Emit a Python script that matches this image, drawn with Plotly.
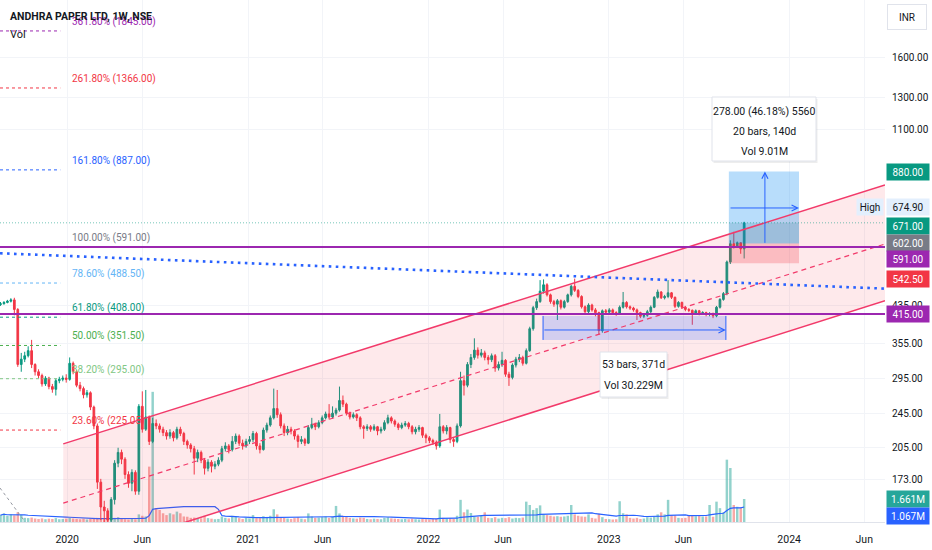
import math
import pandas as pd
import plotly.graph_objects as go

# ---------------- data (weekly bars) ----------------
first_week = "2019-08-19"
first_open = 436.0

close = [
    438, 441, 444, 447, 425, 318, 327, 333, 342, 318,
    306, 300, 287, 296, 283, 279, 292, 294, 296, 294,
    320, 306, 285, 280, 271, 274, 254, 230, 171, 150,
    147, 140, 156, 189, 200, 193, 178, 170, 180, 163,
    255, 226, 241, 212, 233, 230, 226, 222, 218, 222,
    216, 226, 221, 212, 208, 204, 194, 200, 192, 184,
    190, 186, 188, 192, 204, 207, 203, 212, 218, 210,
    207, 212, 214, 221, 207, 203, 225, 231, 240, 252,
    244, 230, 222, 226, 224, 218, 212, 214, 210, 228,
    232, 229, 234, 240, 245, 241, 246, 250, 263, 258,
    246, 241, 244, 240, 229, 227, 229, 226, 229, 224,
    226, 234, 240, 236, 232, 228, 231, 233, 229, 223,
    226, 228, 219, 216, 213, 211, 207, 229, 224, 228,
    214, 212, 230, 292, 285, 318, 330, 343, 334, 338,
    330, 326, 333, 312, 318, 325, 302, 297, 317, 327,
    330, 320, 342, 384, 429, 443, 468, 484, 459, 443,
    437, 445, 430, 443, 459, 480, 470, 455, 431, 420,
    435, 424, 418, 380, 422, 419, 424, 418, 416, 430,
    441, 431, 428, 424, 418, 410, 412, 420, 430, 453,
    466, 452, 455, 464, 453, 432, 441, 430, 425, 423,
    417, 422, 416, 418, 414, 416, 411, 430, 448, 462,
    546, 601, 592, 604, 585, 671,
]
high = [
    442, 444, 447, 451, 452, 428, 338, 340, 350, 362,
    320, 310, 303, 299, 298, 287, 295, 298, 300, 302,
    330, 323, 309, 290, 283, 278, 276, 256, 233, 174,
    155, 149, 158, 192, 205, 203, 195, 181, 183, 182,
    258, 276, 278, 243, 240, 238, 233, 229, 225, 226,
    224, 229, 229, 223, 214, 210, 207, 203, 202, 194,
    193, 192, 191, 195, 207, 211, 209, 218, 221, 220,
    214, 215, 218, 224, 223, 210, 228, 234, 243, 280,
    278, 247, 233, 230, 229, 226, 220, 218, 216, 231,
    240, 234, 237, 243, 248, 258, 255, 253, 283, 270,
    260, 248, 247, 246, 242, 231, 232, 231, 232, 230,
    229, 237, 244, 242, 238, 234, 234, 236, 235, 231,
    229, 231, 229, 221, 218, 215, 213, 245, 231, 231,
    229, 217, 233, 306, 300, 322, 336, 365, 348, 345,
    342, 334, 337, 336, 323, 340, 327, 306, 320, 331,
    336, 333, 346, 388, 433, 450, 496, 498, 488, 462,
    447, 449, 448, 447, 462, 484, 500, 473, 458, 434,
    439, 438, 428, 420, 425, 426, 428, 427, 421, 434,
    466, 444, 434, 431, 427, 420, 416, 424, 434, 456,
    472, 468, 459, 496, 466, 455, 444, 443, 433, 428,
    425, 425, 424, 421, 420, 419, 418, 433, 451, 466,
    550, 612, 640, 608, 606, 674.9,
]
low = [
    433, 436, 439, 441, 412, 314, 306, 322, 330, 312,
    300, 296, 283, 284, 279, 274, 270, 288, 291, 289,
    292, 302, 282, 276, 266, 267, 250, 226, 165, 140,
    132, 128, 136, 152, 185, 188, 174, 166, 163, 160,
    160, 222, 224, 208, 210, 226, 222, 218, 214, 215,
    212, 214, 218, 208, 204, 200, 178, 190, 189, 178,
    181, 180, 183, 186, 190, 201, 199, 201, 209, 207,
    203, 205, 209, 211, 203, 199, 202, 222, 229, 238,
    240, 227, 218, 219, 220, 214, 205, 209, 207, 209,
    226, 225, 227, 232, 238, 238, 239, 243, 248, 254,
    243, 238, 239, 236, 226, 215, 224, 223, 224, 219,
    221, 224, 232, 233, 229, 225, 226, 229, 226, 220,
    220, 223, 216, 210, 210, 208, 203, 205, 221, 220,
    210, 206, 210, 228, 270, 282, 312, 326, 328, 330,
    325, 318, 322, 306, 308, 314, 298, 284, 294, 313,
    322, 316, 318, 340, 380, 424, 440, 462, 455, 438,
    431, 402, 425, 427, 440, 455, 466, 451, 427, 415,
    417, 420, 410, 372, 376, 414, 416, 414, 411, 413,
    427, 427, 424, 420, 402, 406, 406, 409, 417, 428,
    450, 449, 448, 451, 449, 428, 429, 426, 421, 419,
    392, 413, 412, 413, 410, 410, 406, 408, 427, 445,
    458, 540, 586, 588, 570, 556,
]
volume_m = [
    0.50, 0.62, 0.45, 0.55, 0.48, 0.70, 0.52,
    0.30, 0.28, 0.32, 0.25, 0.22, 0.26, 0.20, 0.24, 0.22, 0.28, 0.20, 0.22, 0.24, 0.30, 0.25, 0.22, 0.20, 0.24, 0.18, 0.22, 0.26,
    0.30, 0.28, 0.20, 0.18, 0.22, 0.30, 0.35, 0.25, 0.20, 0.18, 0.24, 0.20, 0.55, 0.45, 0.40,
    4.0, 9.4,
    1.0, 0.87, 0.63, 0.50, 0.63, 0.55, 0.75, 0.63, 0.40, 0.38, 0.30, 0.32, 0.27, 0.27, 0.45, 0.28, 0.24, 0.20,
    0.22, 0.40, 0.30, 0.26, 0.45, 0.38, 0.28, 0.22, 0.30, 0.26, 0.50, 0.32, 0.28, 0.42, 0.35, 0.45,
    0.92, 0.55,
    0.35, 0.30, 0.25, 0.22, 0.28, 0.35, 0.24, 0.20, 0.62, 0.40, 0.30, 0.32, 0.35, 0.40, 0.30, 0.38,
    1.16, 0.62,
    0.45, 0.38, 0.30, 0.26, 0.24, 0.32, 0.30, 0.22, 0.20, 0.24, 0.22, 0.20, 0.30, 0.35, 0.26, 0.24,
    0.22, 0.20, 0.22, 0.20, 0.24, 0.20, 0.18, 0.22, 0.20, 0.18, 0.22, 0.25,
    0.90,
    0.30, 0.26, 0.28, 0.24, 0.45,
    1.60, 0.70, 0.90, 0.65, 0.40, 0.38, 0.45, 0.70,
    0.30, 0.28, 0.35, 0.25, 0.30, 0.28, 0.35, 0.25, 0.30, 0.28, 0.32,
    1.47, 1.23, 0.87, 1.0, 1.2, 0.55, 0.50, 0.45,
    0.40, 0.42, 0.38, 0.40, 0.45,
    1.23, 0.55, 0.45, 0.40, 0.38, 0.55, 0.30,
    0.25, 0.60, 0.35, 0.22, 0.20, 0.18,
    0.20, 1.50, 0.63, 0.55, 0.30,
    0.25, 0.30, 0.22, 0.25, 0.35, 0.32, 0.40,
    0.55, 0.70, 0.55, 1.60, 0.50, 0.48, 0.30, 0.28, 0.30, 0.45, 0.45, 0.42, 0.45, 0.40,
    0.40, 1.23, 0.38, 1.47, 1.0, 0.70, 4.5, 3.9, 1.23, 1.10, 1.05, 1.661,
]

# axis ticks
x_tick_dates = ["2020-01-01", "2020-06-01", "2021-01-01", "2021-06-01", "2022-01-01",
                "2022-06-01", "2023-01-01", "2023-06-01", "2024-01-01", "2024-06-01"]
x_tick_text = ["2020", "Jun", "2021", "Jun", "2022", "Jun", "2023", "Jun", "2024", "Jun"]
y_tick_vals = [173, 205, 245, 295, 355, 435, 1100, 1300, 1600]

# Fibonacci retracement drawing
fib_levels = ["361.80%", "261.80%", "161.80%", "100.00%", "78.60%", "61.80%", "50.00%", "38.20%", "23.60%"]
fib_prices = [1845.00, 1366.00, 887.00, 591.00, 488.50, 408.00, 351.50, 295.00, 225.05]
fib_colors = ["#9c27b0", "#f23645", "#2962ff", "#787b86", "#64b5f6", "#089981", "#4caf50", "#81c784", "#f23645"]
fib_dates = ["2019-08-18", "2019-12-18"]
fib_label_date = "2020-01-07"

# other drawings
view_dates = ["2019-08-18", "2024-07-13"]
price_view = [138.6, 2172.0]
vol_view_m = [0, 37.7]
hline_prices = [591.0, 415.0]
chan_dates = ["2019-12-24", "2024-07-13"]
chan_upper = [209.2, 819.0]
chan_mid = [153.1, 600.0]
chan_lower = [112.9, 445.0]
trend_dates = ["2019-08-18", "2024-07-13"]
trend_prices = [571.5, 474.3]
gray_dates = ["2019-08-18", "2019-10-08"]
gray_prices = [165.8, 138.6]
last_close = 671.0
pos_dates = ["2023-09-01", "2024-01-21"]
pos_target, pos_entry, pos_stop = 880.0, 602.0, 542.5
pos_mid_date = "2023-11-13"
pos_harrow_price = 725.6
rng_dates = ["2022-08-21", "2023-08-26"]
rng_prices = [361.9, 410.7]
rng_arrow_price = 381.4

# ---------------- build ----------------
n = len(close)
assert len(high) == n and len(low) == n and len(volume_m) == n, (len(close), len(high), len(low), len(volume_m))
dates = pd.date_range(first_week, periods=n, freq="7D")
opens = [first_open] + close[:-1]
highs = [max(h, o, c) for h, o, c in zip(high, opens, close)]
lows = [min(l, o, c) for l, o, c in zip(low, opens, close)]
vol_colors = ["rgba(38,166,154,0.5)" if c >= o else "rgba(239,83,80,0.5)" for c, o in zip(close, opens)]
vol_ma = pd.Series(volume_m).rolling(20, min_periods=1).mean()

FONT = "Roboto, Open Sans, sans-serif"
TXT = "#131722"
L10 = math.log10

fig = go.Figure()

# volume (base axis, behind price)
fig.add_trace(go.Bar(x=dates, y=volume_m, marker=dict(color=vol_colors, line=dict(width=0)),
                     width=5 * 86400000, yaxis="y", hoverinfo="skip"))
fig.add_trace(go.Scatter(x=dates, y=vol_ma, mode="lines", line=dict(color="#2962ff", width=1.2),
                         yaxis="y", hoverinfo="skip"))

# channel fill
fig.add_trace(go.Scatter(x=[chan_dates[0], chan_dates[1], chan_dates[1], chan_dates[0], chan_dates[0]],
                         y=[chan_upper[0], chan_upper[1], chan_lower[1], chan_lower[0], chan_upper[0]],
                         fill="toself", fillcolor="rgba(242,54,69,0.11)", mode="lines",
                         line=dict(width=0), yaxis="y2", hoverinfo="skip"))

def rect(xd, y0, y1, color):
    fig.add_trace(go.Scatter(x=[xd[0], xd[1], xd[1], xd[0], xd[0]], y=[y0, y0, y1, y1, y0],
                             fill="toself", fillcolor=color, mode="lines", line=dict(width=0),
                             yaxis="y2", hoverinfo="skip"))

# date range box (53 bars)
rect(rng_dates, rng_prices[0], rng_prices[1], "rgba(41,98,255,0.2)")
# position / price range tool
rect(pos_dates, pos_entry, pos_target, "rgba(33,150,243,0.32)")
rect(pos_dates, pos_entry, last_close, "rgba(0,90,110,0.14)")
rect(pos_dates, pos_stop, pos_entry, "rgba(242,54,69,0.25)")

# fib lines
for p, c in zip(fib_prices, fib_colors):
    fig.add_trace(go.Scatter(x=fib_dates, y=[p, p], mode="lines",
                             line=dict(color=c, width=1, dash="3px,3px"), yaxis="y2", hoverinfo="skip"))

# gray dashed diagonal
fig.add_trace(go.Scatter(x=gray_dates, y=gray_prices, mode="lines",
                         line=dict(color="#9598a1", width=1, dash="3px,3px"), yaxis="y2", hoverinfo="skip"))

# candles
fig.add_trace(go.Candlestick(x=dates, open=opens, high=highs, low=lows, close=close, yaxis="y2",
                             increasing=dict(line=dict(color="#089981", width=1), fillcolor="#089981"),
                             decreasing=dict(line=dict(color="#f23645", width=1), fillcolor="#f23645"),
                             whiskerwidth=0, hoverinfo="skip"))

# channel lines
chan_col = "#f23a6a"
fig.add_trace(go.Scatter(x=chan_dates, y=chan_upper, mode="lines", line=dict(color=chan_col, width=1.5),
                         yaxis="y2", hoverinfo="skip"))
fig.add_trace(go.Scatter(x=chan_dates, y=chan_lower, mode="lines", line=dict(color=chan_col, width=1.5),
                         yaxis="y2", hoverinfo="skip"))
fig.add_trace(go.Scatter(x=chan_dates, y=chan_mid, mode="lines", line=dict(color=chan_col, width=1.2, dash="5px,4px"),
                         yaxis="y2", hoverinfo="skip"))

# horizontal purple lines
for p in hline_prices:
    fig.add_trace(go.Scatter(x=view_dates, y=[p, p], mode="lines", line=dict(color="#9c27b0", width=2),
                             yaxis="y2", hoverinfo="skip"))

# blue dotted trendline
fig.add_trace(go.Scatter(x=trend_dates, y=trend_prices, mode="lines",
                         line=dict(color="#2962ff", width=2.6, dash="2.6px,4.4px"), yaxis="y2", hoverinfo="skip"))

# last price line
fig.add_trace(go.Scatter(x=view_dates, y=[last_close, last_close], mode="lines",
                         line=dict(color="rgba(8,153,129,0.55)", width=1, dash="1px,2px"),
                         yaxis="y2", hoverinfo="skip"))

# range box edge lines
for d in rng_dates:
    fig.add_trace(go.Scatter(x=[d, d], y=rng_prices, mode="lines", line=dict(color="#2962ff", width=1),
                             yaxis="y2", hoverinfo="skip"))

annotations = []

# fib labels
for lab, p, c in zip(fib_levels, fib_prices, fib_colors):
    annotations.append(dict(x=fib_label_date, y=L10(p), xref="x", yref="y2", text=f"{lab} ({p:.2f})",
                            showarrow=False, xanchor="left", yanchor="middle", yshift=9,
                            font=dict(family=FONT, size=10, color=c)))

# arrows
arrow_col = "#2962ff"
annotations.append(dict(x=pos_mid_date, y=L10(pos_target), xref="x", yref="y2", ax=0, ay=73,
                        showarrow=True, arrowhead=5, arrowsize=1.2, arrowwidth=1, arrowcolor=arrow_col, text=""))
annotations.append(dict(x=pos_dates[1], y=L10(pos_harrow_price), xref="x", yref="y2", ax=-70, ay=0,
                        showarrow=True, arrowhead=5, arrowsize=1.2, arrowwidth=1, arrowcolor=arrow_col, text=""))
annotations.append(dict(x=rng_dates[1], y=L10(rng_arrow_price), xref="x", yref="y2", ax=-183, ay=0,
                        showarrow=True, arrowhead=5, arrowsize=1.2, arrowwidth=1, arrowcolor=arrow_col, text=""))

# title & legend
annotations.append(dict(x=8 / 885, y=1 - 16 / 522, xref="paper", yref="paper", xanchor="left", yanchor="middle",
                        text="<b>ANDHRA PAPER LTD, 1W, NSE</b>", showarrow=False,
                        font=dict(family=FONT, size=10.5, color=TXT)))
annotations.append(dict(x=8 / 885, y=1 - 34 / 522, xref="paper", yref="paper", xanchor="left", yanchor="middle",
                        text="Vol", showarrow=False, font=dict(family=FONT, size=11, color=TXT)))

# tooltips
shapes = []
def tooltip(px0, px1, py0, py1, lines, line_ys):
    X0, X1 = px0 / 885, px1 / 885
    Y0, Y1 = 1 - py1 / 522, 1 - py0 / 522
    shapes.append(dict(type="rect", xref="paper", yref="paper", x0=X0 + 1.5 / 885, x1=X1 + 1.5 / 885,
                       y0=Y0 - 2 / 522, y1=Y1 - 2 / 522, fillcolor="rgba(0,0,0,0.07)", line=dict(width=0), layer="above"))
    shapes.append(dict(type="rect", xref="paper", yref="paper", x0=X0, x1=X1, y0=Y0, y1=Y1,
                       fillcolor="white", line=dict(color="#e0e3eb", width=1), layer="above"))
    cx = (px0 + px1) / 2 / 885
    for t, yy in zip(lines, line_ys):
        annotations.append(dict(x=cx, y=1 - yy / 522, xref="paper", yref="paper", text=t, showarrow=False,
                                xanchor="center", yanchor="middle", font=dict(family=FONT, size=10.5, color=TXT)))

tooltip(712, 816, 97, 161, ["278.00 (46.18%) 5560", "20 bars, 140d", "Vol 9.01M"], [111, 131, 151])
tooltip(600, 667, 352, 397, ["53 bars, 371d", "Vol 30.229M"], [364, 385])

# right axis labels
def axis_label(text, y, yref, bg, fg="white", yshift=0):
    annotations.append(dict(x=1, y=y, xref="paper", yref=yref, xanchor="left", yanchor="middle",
                            xshift=1, yshift=yshift, text=text, showarrow=False, bgcolor=bg,
                            width=40, height=14, align="center", font=dict(family=FONT, size=10, color=fg)))

axis_label("880.00", L10(pos_target), "y2", "#089981", yshift=-1)
axis_label("674.90", L10(674.9), "y2", "#e3effd", fg=TXT, yshift=15)
axis_label("671.00", L10(last_close), "y2", "#089981", yshift=-3)
axis_label("602.00", L10(pos_entry), "y2", "#787b86", yshift=0)
axis_label("591.00", L10(hline_prices[0]), "y2", "#9c27b0", yshift=-12)
axis_label("542.50", L10(pos_stop), "y2", "#f23645", yshift=-16)
axis_label("415.00", L10(hline_prices[1]), "y2", "#9c27b0", yshift=0)
axis_label("1.661M", volume_m[-1], "y", "#26a69a", yshift=0)
axis_label("1.067M", float(vol_ma.iloc[-1]), "y", "#2962ff", yshift=-9)
annotations.append(dict(x=1, y=L10(674.9), xref="paper", yref="y2", xanchor="right", yanchor="middle",
                        xshift=-1, yshift=15, text="High", showarrow=False, bgcolor="#e3effd",
                        width=24, height=14, font=dict(family=FONT, size=10, color=TXT)))
annotations.append(dict(x=1, y=1, xref="paper", yref="paper", xanchor="left", yanchor="top",
                        xshift=2, yshift=-4, text="INR", showarrow=False, bgcolor="white",
                        bordercolor="#e0e3eb", borderwidth=1, width=36, height=22,
                        font=dict(family=FONT, size=10, color=TXT)))

fig.update_layout(
    width=932, height=550,
    margin=dict(l=0, r=47, t=0, b=28),
    paper_bgcolor="white", plot_bgcolor="white",
    showlegend=False, hovermode=False,
    xaxis=dict(type="date", range=view_dates, tickmode="array", tickvals=x_tick_dates, ticktext=x_tick_text,
               showgrid=True, gridcolor="#f2f4f8", gridwidth=1, zeroline=False, ticks="",
               showline=True, linecolor="#e0e3eb", ticklabelstandoff=7,
               tickfont=dict(family=FONT, size=10.5, color=TXT), rangeslider=dict(visible=False)),
    yaxis=dict(range=vol_view_m, visible=False, showgrid=False, zeroline=False, fixedrange=True),
    yaxis2=dict(type="log", overlaying="y", side="right", range=[L10(price_view[0]), L10(price_view[1])],
                tickmode="array", tickvals=y_tick_vals, ticktext=[f"{v:.2f}" for v in y_tick_vals],
                showgrid=True, gridcolor="#f2f4f8", zeroline=False, ticks="", showline=False,
                ticklabelstandoff=6, tickfont=dict(family=FONT, size=10, color=TXT)),
    annotations=annotations,
    shapes=shapes,
)

fig.write_html("out.html")
